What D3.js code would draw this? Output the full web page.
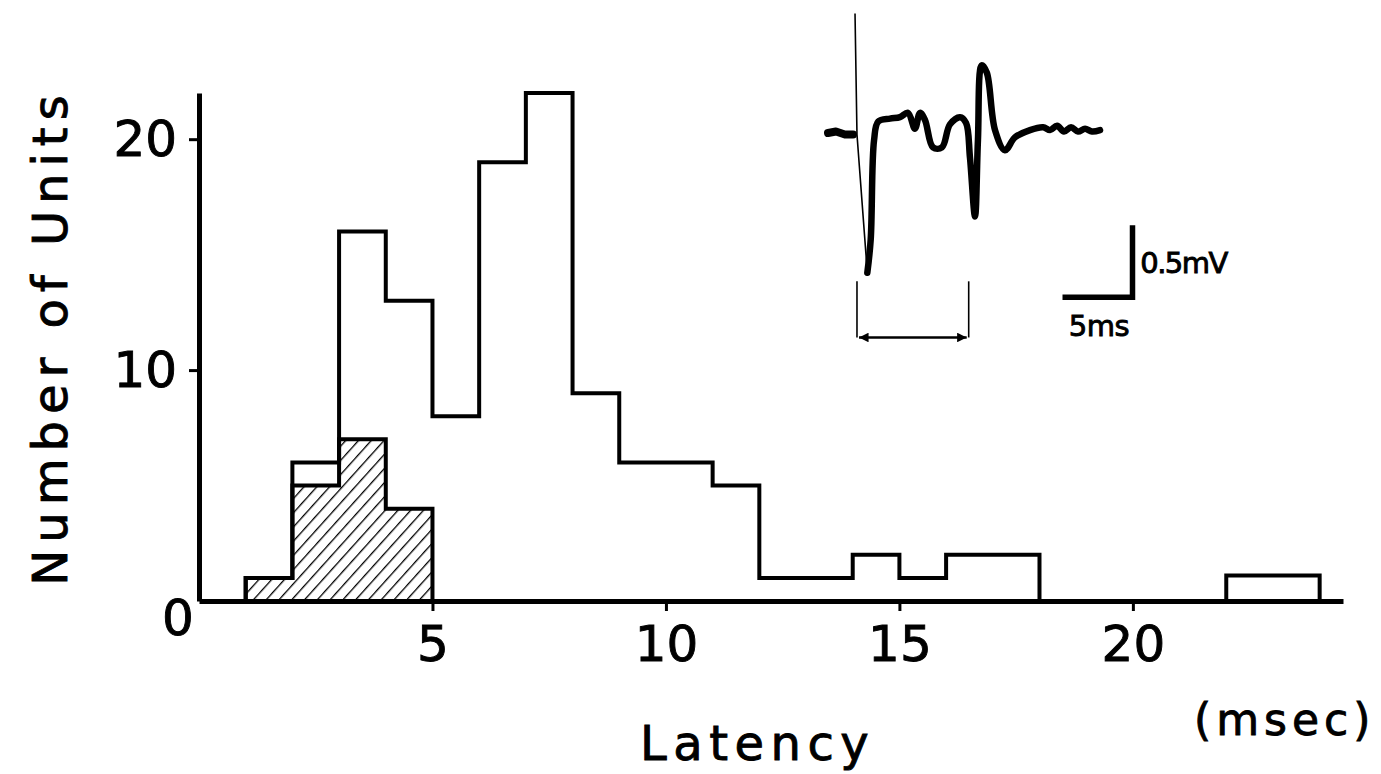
<!DOCTYPE html>
<html>
  <head>
    <meta charset="utf-8">
    <script src="https://d3js.org/d3.v7.min.js"></script>
    <style>
      body { margin: 0; background: #fff; }
      svg { font-family: "DejaVu Sans", sans-serif; fill: #000; }
      svg text { stroke: #000; stroke-width: 0.9px; }
      .axis path, .axis line { stroke: #000; }
      .axis path { stroke-width: 5px; }
      .axis line { stroke-width: 3px; }
      .axis text { font-size: 50px; fill: #000; }
      .hist { fill: none; stroke: #000; stroke-width: 4px; stroke-linejoin: miter; }
      .trace { fill: none; stroke: #000; stroke-width: 6.5px; stroke-linejoin: round; stroke-linecap: round; }
      .thin { fill: none; stroke: #000; stroke-width: 1.6px; }
    </style>
  </head>
  <body>
    <svg width="1381" height="774"></svg>
    <script>
    // histogram bins (1 ms wide), left edge of each bin
    var binStarts = [1,2,3,4,5,6,7,8,9,10,11,12,13,14,15,16,17,18,19,20,21,22,23];
    // all units
    var allUnits = [1,6,16,13,8,19,22,9,6,6,5,1,1,2,1,2,2,0,0,0,0,1.1,1.1];
    // hatched part, bins starting at 1..4
    var hatchStarts = [1,2,3,4];
    var hatchUnits = [1,5,7,4];

    var xTicks = [5,10,15,20];
    var yTicks = [10,20];

    // inset recording: time (ms), voltage (mV)
    var preStim = [[0,0],[0.57,0.01],[1.21,-0.01],[1.79,-0.01]];
    var artifact = [[1.93,0.83],[2.07,-0.01],[2.81,-0.97]];
    var response = [[2.81,-0.97],[3.05,-0.74],[3.29,-0.05],[3.59,0.08],[4.43,0.10],[5.14,0.11],
                    [5.71,0.14],[6.21,0.03],[6.57,0.14],[6.93,0.09],[7.5,-0.10],[8.14,-0.10],
                    [8.71,0.06],[9.43,0.11],[9.86,0.07],[10.14,-0.17],[10.5,-0.58],[10.71,-0.05],
                    [10.98,0.47],[11.34,0.42],[11.93,0.02],[12.64,-0.12],[13.36,-0.03],[14.43,0.02],
                    [15.36,0.04],[15.86,0.02],[16.36,0.05],[16.86,0.01],[17.36,0.04],[17.86,0.01],
                    [18.36,0.03],[18.86,0.01],[19.43,0.02]];
    var latencyMarks = [2.07, 10.05];

    var svg = d3.select("svg");

    var x = d3.scaleLinear().domain([0, 24.5]).range([199, 1343]),
        y = d3.scaleLinear().domain([0, 22]).range([601, 93]);

    var defs = svg.append("defs");
    var pat = defs.append("pattern")
        .attr("id", "hatch")
        .attr("patternUnits", "userSpaceOnUse")
        .attr("width", 9.5)
        .attr("height", 9.5)
        .attr("patternTransform", "rotate(42)");
    pat.append("line")
        .attr("x1", 0).attr("y1", 0).attr("x2", 0).attr("y2", 9.5)
        .attr("stroke", "#000").attr("stroke-width", 2.6);

    defs.append("marker")
        .attr("id", "arrow")
        .attr("viewBox", "0 0 10 10")
        .attr("refX", 10).attr("refY", 5)
        .attr("markerWidth", 7).attr("markerHeight", 4)
        .attr("markerUnits", "strokeWidth")
        .attr("orient", "auto-start-reverse")
      .append("path")
        .attr("d", "M0,0L10,5L0,10z")
        .attr("fill", "#000");

    var step = d3.line()
        .curve(d3.curveStepAfter)
        .x(function(d) { return x(d[0]); })
        .y(function(d) { return y(d[1]); });

    // hatched histogram
    var hatchPts = [[hatchStarts[0], 0]]
        .concat(hatchStarts.map(function(s, i) { return [s, hatchUnits[i]]; }))
        .concat([[hatchStarts[hatchStarts.length - 1] + 1, 0]]);
    svg.append("path")
        .attr("class", "hist")
        .attr("d", step(hatchPts) + "Z")
        .style("fill", "url(#hatch)");

    // outline of all units
    var allPts = [[binStarts[0], 0]]
        .concat(binStarts.map(function(s, i) { return [s, allUnits[i]]; }))
        .concat([[binStarts[binStarts.length - 1] + 1, 0]]);
    svg.append("path")
        .attr("class", "hist")
        .attr("d", step(allPts));

    // axes
    svg.append("g")
        .attr("class", "axis")
        .attr("transform", "translate(0," + y(0) + ")")
        .call(d3.axisBottom(x).tickValues(xTicks).tickSize(10).tickSizeOuter(0).tickPadding(14));

    svg.append("g")
        .attr("class", "axis")
        .attr("transform", "translate(" + x(0) + ",0)")
        .call(d3.axisLeft(y).tickValues(yTicks).tickSize(10).tickSizeOuter(0).tickPadding(12));
    svg.selectAll(".axis").attr("font-family", null).attr("font-size", null);

    svg.append("text")
        .attr("x", x(0) - 21)
        .attr("y", y(0) + 34)
        .attr("text-anchor", "middle")
        .style("font-size", "50px")
        .text("0");

    // axis titles
    svg.append("text")
        .attr("transform", "translate(67,337) rotate(-90)")
        .attr("text-anchor", "middle")
        .style("font-size", "48px")
        .style("letter-spacing", "7px")
        .text("Number of Units");

    svg.append("text")
        .attr("x", 640)
        .attr("y", 760)
        .style("font-size", "48px")
        .style("letter-spacing", "6.5px")
        .text("Latency");

    svg.append("text")
        .attr("x", 1194)
        .attr("y", 735)
        .style("font-size", "44px")
        .style("letter-spacing", "5px")
        .text("(msec)");

    // inset recording
    var ix = d3.scaleLinear().domain([0, 5]).range([828, 898]),
        iy = d3.scaleLinear().domain([0, 0.5]).range([133, 61]);

    var trace = d3.line()
        .x(function(d) { return ix(d[0]); })
        .y(function(d) { return iy(d[1]); });
    var smooth = d3.line()
        .curve(d3.curveCatmullRom.alpha(0.5))
        .x(function(d) { return ix(d[0]); })
        .y(function(d) { return iy(d[1]); });

    svg.append("path").attr("class", "trace").attr("d", trace(preStim)).style("stroke-width", "8px");
    svg.append("path").attr("class", "thin").attr("d", trace(artifact));
    svg.append("path").attr("class", "trace").attr("d", smooth(response));

    // latency bracket
    latencyMarks.forEach(function(t) {
      svg.append("line").attr("class", "thin")
          .attr("x1", ix(t)).attr("x2", ix(t))
          .attr("y1", iy(-1.03)).attr("y2", iy(-1.42));
    });
    svg.append("line")
        .attr("class", "thin")
        .attr("x1", ix(latencyMarks[0]) + 2).attr("x2", ix(latencyMarks[1]) - 2)
        .attr("y1", iy(-1.42)).attr("y2", iy(-1.42))
        .style("stroke-width", "2.4px")
        .attr("marker-start", "url(#arrow)")
        .attr("marker-end", "url(#arrow)");

    // scale bar 5 ms / 0.5 mV
    var sb = svg.append("g");
    sb.append("path")
        .attr("d", "M" + ix(16.75) + "," + iy(-1.14) + "H" + ix(21.75) + "V" + iy(-0.64))
        .attr("fill", "none")
        .attr("stroke", "#000")
        .attr("stroke-width", 5.5);
    sb.append("text")
        .attr("x", ix(22.3))
        .attr("y", iy(-0.97))
        .style("font-size", "29px")
        .style("letter-spacing", "-1.5px")
        .text("0.5mV");
    sb.append("text")
        .attr("x", ix(17.2))
        .attr("y", iy(-1.41))
        .style("font-size", "29px")
        .style("letter-spacing", "-0.5px")
        .text("5ms");
    </script>
  </body>
</html>
